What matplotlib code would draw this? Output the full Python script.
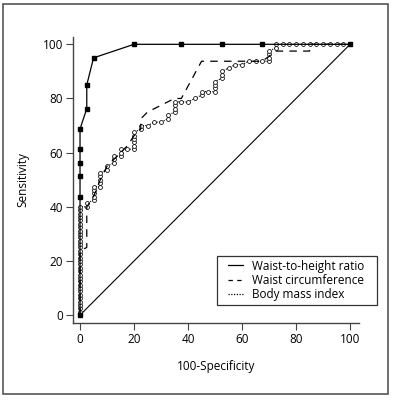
import numpy as np
import matplotlib.pyplot as plt
from matplotlib.lines import Line2D
from matplotlib.patches import Rectangle
from matplotlib.legend_handler import HandlerLine2D

plt.rcParams['font.family'] = ['Open Sans', 'DejaVu Sans']

# Waist-to-height ratio (100-specificity, sensitivity)
whr_x = [0, 0, 0, 0, 0, 0, 2.5, 2.5, 5, 20, 37.5, 52.5, 67.5, 100]
whr_y = [0, 43.75, 51.25, 56.25, 61.25, 68.75, 76.25, 85, 95, 100, 100, 100, 100, 100]

# Waist circumference
wc_x = [0, 0, 2.5, 2.5, 5, 7.5, 10, 15, 17.5, 20, 22.5, 22.5, 25, 35, 37.5, 45, 67.5, 72.5, 85, 85, 100]
wc_y = [0, 23.75, 25, 40, 43.75, 50, 55, 60, 62.5, 66.25, 68.75, 72.5, 75, 80, 80, 93.75, 93.75, 97.5, 97.5, 100, 100]

# Body mass index
bmi_x = [0, 0, 0, 0, 0, 0, 0, 0, 0, 0, 0, 0, 0, 0, 0, 0, 0, 0, 0, 0, 0, 0, 0, 0, 0, 0, 0, 0, 0, 0, 0, 0, 0,
         2.5, 2.5,
         5, 5, 5, 5, 5,
         7.5, 7.5, 7.5, 7.5, 7.5,
         10, 10,
         12.5, 12.5, 12.5,
         15, 15, 15,
         17.5,
         20, 20, 20, 20, 20, 20,
         22.5, 22.5,
         25, 27.5, 30,
         32.5, 32.5,
         35, 35, 35, 35,
         37.5, 40, 42.5,
         45, 45,
         47.5,
         50, 50, 50, 50,
         52.5, 52.5, 52.5,
         55, 57.5, 60, 62.5, 65, 67.5,
         70, 70, 70, 70,
         72.5, 72.5,
         75, 77.5, 80, 82.5, 85, 87.5, 90, 92.5, 95, 97.5, 100]
bmi_y = [0, 1.25, 2.5, 3.75, 5, 6.25, 7.5, 8.75, 10, 11.25, 12.5, 13.75, 15, 16.25, 17.5, 18.75, 20,
         21.25, 22.5, 23.75, 25, 26.25, 27.5, 28.75, 30, 31.25, 32.5, 33.75, 35, 36.25, 37.5, 38.75, 40,
         40, 41.25,
         42.5, 43.75, 45, 46.25, 47.5,
         47.5, 48.75, 50, 51.25, 52.5,
         53.75, 55,
         56.25, 57.5, 58.75,
         58.75, 60, 61.25,
         61.25,
         61.25, 62.5, 63.75, 65, 66.25, 67.5,
         68.75, 70,
         70, 71.25, 71.25,
         72.5, 73.75,
         75, 76.25, 77.5, 78.75,
         78.75, 78.75, 80,
         81.25, 82.5,
         82.5,
         82.5, 83.75, 85, 86.25,
         87.5, 88.75, 90,
         91.25, 92.5, 92.5, 93.75, 93.75, 93.75,
         93.75, 95, 96.25, 97.5,
         98.75, 100,
         100, 100, 100, 100, 100, 100, 100, 100, 100, 100, 100]

ticks = [0, 20, 40, 60, 80, 100]

fig = plt.figure(figsize=(3.94, 4.05), dpi=100)
fig.patches.append(Rectangle((3 / 394, 1 - 394 / 405), 385 / 394, 390 / 405,
                             transform=fig.transFigure, fill=False,
                             edgecolor='#555555', linewidth=1.2))

ax = fig.add_axes([73 / 394, 1 - 323 / 405, 286 / 394, 286 / 405])

ax.plot([0, 100], [0, 100], color='black', linewidth=0.8)
ax.plot(bmi_x, bmi_y, color='black', linestyle=(0, (1, 1.2)), linewidth=0.8,
        marker='o', markersize=2.8, markerfacecolor='white', markeredgewidth=0.55)
ax.plot(wc_x, wc_y, color='black', linestyle=(0, (6, 5)), linewidth=0.9)
ax.plot(whr_x, whr_y, color='black', linewidth=0.9, marker='s', markersize=2.6)

ax.set_xlim(-2.6, 103.3)
ax.set_ylim(-2.9, 102.7)
ax.set_xticks(ticks)
ax.set_yticks(ticks)
ax.tick_params(labelsize=8.5, length=5, width=0.8, color='#444444', pad=2)
for s in ['top', 'right']:
    ax.spines[s].set_visible(False)
for s in ['left', 'bottom']:
    ax.spines[s].set_color('#444444')
    ax.spines[s].set_linewidth(1.0)

ax.set_xlabel('100-Specificity', fontsize=8.5, labelpad=10)
ax.set_ylabel('Sensitivity', fontsize=8.5, labelpad=10)

handles = [Line2D([], [], color='black', linewidth=0.9),
           Line2D([], [], color='black', linewidth=0.9, linestyle=(0, (3.5, 3.5))),
           Line2D([], [], color='black', linewidth=0.9, linestyle=(0, (1, 1.2)))]
labels = ['Waist-to-height ratio', 'Waist circumference', 'Body mass index']
leg = ax.legend(handles, labels, loc='upper left',
                bbox_to_anchor=(216.7 / 394, 1 - 256 / 405, 160 / 394, 0),
                bbox_transform=fig.transFigure, mode='expand',
                fontsize=8.5, frameon=True, fancybox=False, borderpad=0.3,
                handlelength=1.93, handletextpad=0.74, labelspacing=0.12, borderaxespad=0,
                handler_map={Line2D: HandlerLine2D(xpad=0.66)})
leg.get_frame().set_edgecolor('black')
leg.get_frame().set_linewidth(0.9)

fig.savefig('out.png', dpi=100)
